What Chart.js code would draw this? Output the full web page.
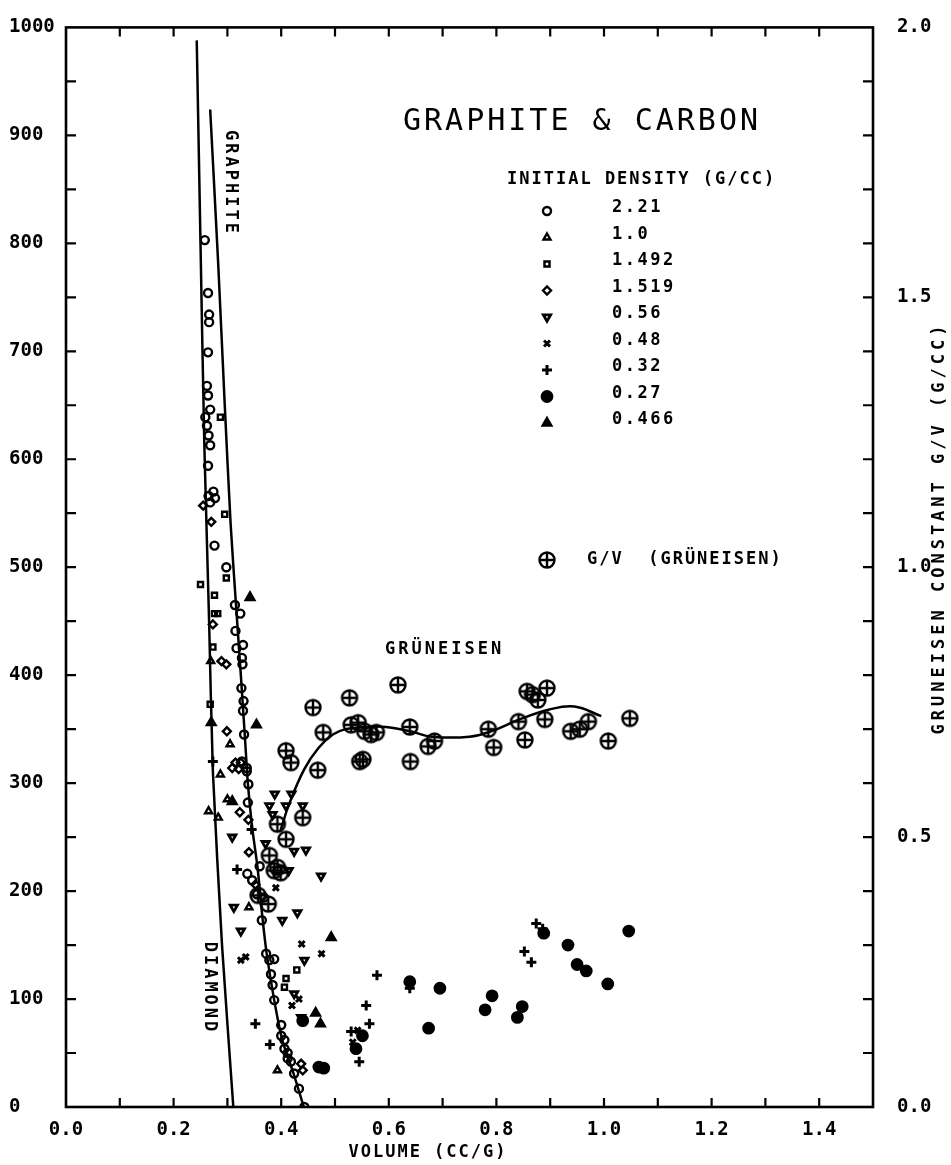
<!DOCTYPE html>
<html>
<head>
<meta charset="utf-8">
<script src="https://cdn.jsdelivr.net/npm/chart.js@4.4.0/dist/chart.umd.min.js"></script>
<style>
  html, body { margin: 0; padding: 0; background: #fff; }
  #wrap { position: relative; width: 951px; height: 1165px; }
</style>
</head>
<body>
<div id="wrap"><canvas id="hugoniotChart"></canvas></div>
<script>
// Shock Hugoniot data, pressure (left axis) vs specific volume (cc/g)
const rho221 = [[0.258,803],[0.264,754],[0.266,734],[0.266,727],[0.264,699],[0.262,668],[0.264,659],[0.268,646],[0.259,639],[0.262,631],[0.265,622],[0.268,613],[0.264,594],[0.274,570],[0.265,566],[0.277,564],[0.268,560],[0.276,520],[0.298,500],[0.314,465],[0.324,457],[0.315,441],[0.329,428],[0.317,425],[0.327,416],[0.328,410],[0.326,388],[0.330,376],[0.329,367],[0.331,345],[0.327,320],[0.336,314],[0.336,311],[0.339,299],[0.338,282],[0.360,223],[0.337,216],[0.346,210],[0.355,197],[0.368,194],[0.364,173],[0.372,142],[0.378,136],[0.387,137],[0.381,123],[0.384,113],[0.387,99],[0.400,76],[0.400,66],[0.406,62],[0.406,54],[0.412,50],[0.412,45],[0.418,42],[0.424,31],[0.433,17],[0.443,0]];
const rho10 = [[0.269,413],[0.305,336],[0.287,308],[0.265,274],[0.283,268],[0.300,285],[0.340,185],[0.393,34]];
const rho1492 = [[0.287,639],[0.295,549],[0.298,490],[0.250,484],[0.276,474],[0.276,457],[0.282,457],[0.273,426],[0.268,373],[0.429,127],[0.409,119],[0.406,111]];
const rho1519 = [[0.255,557],[0.270,542],[0.273,447],[0.289,413],[0.298,410],[0.299,348],[0.315,319],[0.309,314],[0.325,319],[0.321,313],[0.323,273],[0.339,266],[0.340,236],[0.352,206],[0.437,40],[0.440,34]];
const rho056 = [[0.388,290],[0.419,290],[0.378,279],[0.409,279],[0.440,279],[0.384,271],[0.309,250],[0.371,244],[0.424,237],[0.446,238],[0.414,219],[0.474,214],[0.312,185],[0.402,173],[0.430,180],[0.325,163],[0.443,136],[0.424,105],[0.437,83]];
const rho048 = [[0.390,203],[0.438,151],[0.475,142],[0.325,136],[0.334,139],[0.433,100],[0.420,94],[0.542,71],[0.533,60]];
const rho032 = [[0.273,320],[0.345,257],[0.318,220],[0.578,122],[0.639,110],[0.558,94],[0.352,77],[0.564,77],[0.379,58],[0.545,42],[0.874,170],[0.886,165],[0.852,144],[0.865,134],[0.530,70]];
const rho027 = [[0.639,116],[0.695,110],[0.779,90],[0.792,103],[0.848,93],[0.839,83],[0.674,73],[0.551,66],[0.539,54],[0.440,80],[0.470,37],[0.479,36],[0.888,161],[0.933,150],[0.950,132],[0.967,126],[1.007,114],[1.046,163]];
const rho0466 = [[0.342,472],[0.354,354],[0.270,356],[0.309,283],[0.493,157],[0.464,87],[0.473,77]];

// drawn curves
const diamondLine = [[0.243,988],[0.250,800],[0.257,616],[0.266,450],[0.273,311],[0.290,150],[0.311,0]];
const graphiteLine = [[0.268,924],[0.283,780],[0.295,651],[0.306,540],[0.316,465],[0.325,400],[0.333,339],[0.338,300],[0.346,259],[0.356,222],[0.365,176],[0.373,142],[0.387,99],[0.402,62],[0.423,31],[0.442,0]];

// Grueneisen constant G/V (right axis, g/cc)
const gruenPoints = [[0.357,0.392],[0.376,0.376],[0.378,0.466],[0.387,0.438],[0.393,0.444],[0.399,0.434],[0.393,0.524],[0.409,0.496],[0.440,0.536],[0.409,0.660],[0.418,0.638],[0.459,0.740],[0.468,0.624],[0.478,0.694],[0.527,0.758],[0.530,0.708],[0.543,0.712],[0.546,0.640],[0.552,0.644],[0.555,0.696],[0.567,0.690],[0.577,0.694],[0.617,0.782],[0.639,0.704],[0.640,0.640],[0.673,0.668],[0.685,0.678],[0.785,0.700],[0.795,0.666],[0.841,0.714],[0.853,0.680],[0.857,0.770],[0.867,0.764],[0.877,0.754],[0.894,0.776],[0.890,0.718],[0.938,0.696],[0.955,0.700],[0.971,0.714],[1.008,0.678],[1.048,0.720]];
const gruenLine = [[0.398,0.51],[0.415,0.562],[0.443,0.626],[0.47,0.666],[0.496,0.69],[0.52,0.70],[0.56,0.704],[0.594,0.704],[0.64,0.696],[0.68,0.686],[0.75,0.686],[0.79,0.696],[0.843,0.718],[0.897,0.736],[0.945,0.742],[0.995,0.724]];

const densityLabels = ['2.21', '1.0', '1.492', '1.519', '0.56', '0.48', '0.32', '0.27', '0.466'];

const MONO = '"DejaVu Sans Mono", monospace';
const INK = '#000';

function toXY(pairs) {
    return pairs.map(p => ({ x: p[0], y: p[1] }));
}

// circle with a cross inside, used for the G/V points
function circlePlus(r) {
    const c = document.createElement('canvas');
    const s = Math.ceil(r * 2 + 5);
    c.width = s; c.height = s;
    const g = c.getContext('2d');
    g.strokeStyle = INK;
    g.lineWidth = 2.4;
    g.beginPath();
    g.arc(s / 2, s / 2, r, 0, Math.PI * 2);
    g.moveTo(s / 2 - r, s / 2); g.lineTo(s / 2 + r, s / 2);
    g.moveTo(s / 2, s / 2 - r); g.lineTo(s / 2, s / 2 + r);
    g.stroke();
    return c;
}
const gvStyle = circlePlus(7.5);

function pointSet(label, pairs, style, opts) {
    return Object.assign({
        type: 'scatter',
        label: label,
        data: toXY(pairs),
        pointStyle: style,
        pointRadius: 4,
        pointBorderWidth: 2.4,
        pointBorderColor: INK,
        pointBackgroundColor: 'rgba(0,0,0,0)',
        yAxisID: 'y'
    }, opts || {});
}

function lineSet(label, pairs, axis, tension) {
    return {
        type: 'line',
        label: label,
        data: toXY(pairs),
        borderColor: INK,
        borderWidth: 2.5,
        pointRadius: 0,
        tension: tension,
        fill: false,
        yAxisID: axis
    };
}

const densitySets = [
    pointSet('2.21', rho221, 'circle', { pointRadius: 4 }),
    pointSet('1.0', rho10, 'triangle', { pointRadius: 4 }),
    pointSet('1.492', rho1492, 'rect', { pointRadius: 3.6 }),
    pointSet('1.519', rho1519, 'rectRot', { pointRadius: 4 }),
    pointSet('0.56', rho056, 'triangle', { pointRadius: 4.2, pointRotation: 180, pointBorderWidth: 2.8 }),
    pointSet('0.48', rho048, 'crossRot', { pointRadius: 4.2, pointBorderWidth: 3 }),
    pointSet('0.32', rho032, 'cross', { pointRadius: 5, pointBorderWidth: 3 }),
    pointSet('0.27', rho027, 'circle', { pointRadius: 5.2, pointBackgroundColor: INK }),
    pointSet('0.466', rho0466, 'triangle', { pointRadius: 5, pointBackgroundColor: INK })
];

const gvSet = pointSet('G/V (GRÜNEISEN)', gruenPoints, gvStyle, { yAxisID: 'y2' });

// frame, inward tick marks and the annotation text
const decorPlugin = {
    id: 'decor',
    afterDraw(chart) {
        const ctx = chart.ctx;
        const a = chart.chartArea;
        const sx = chart.scales.x, sy = chart.scales.y, sy2 = chart.scales.y2;
        ctx.save();
        ctx.strokeStyle = INK;
        ctx.lineWidth = 2.6;
        ctx.strokeRect(a.left, a.top, a.right - a.left, a.bottom - a.top);

        ctx.lineWidth = 2.2;
        ctx.beginPath();
        sx.ticks.forEach(t => {
            if (t.value <= sx.min || t.value >= sx.max - 1e-9) return;
            const px = sx.getPixelForValue(t.value);
            ctx.moveTo(px, a.bottom); ctx.lineTo(px, a.bottom - 9);
            ctx.moveTo(px, a.top); ctx.lineTo(px, a.top + 9);
        });
        sy.ticks.forEach(t => {
            if (t.value <= sy.min || t.value >= sy.max) return;
            const py = sy.getPixelForValue(t.value);
            ctx.moveTo(a.left, py); ctx.lineTo(a.left + 10, py);
        });
        sy2.ticks.forEach(t => {
            if (t.value <= sy2.min || t.value >= sy2.max - 1e-9) return;
            const py = sy2.getPixelForValue(t.value);
            ctx.moveTo(a.right, py); ctx.lineTo(a.right - 10, py);
        });
        ctx.stroke();

        ctx.fillStyle = INK;
        ctx.textBaseline = 'middle';

        function txt(s, x, y, font, spacing, align, rot) {
            ctx.save();
            ctx.font = font;
            ctx.letterSpacing = (spacing || 0) + 'px';
            ctx.textAlign = align || 'left';
            ctx.translate(x, y);
            if (rot) ctx.rotate(rot);
            ctx.fillText(s, 0, 0);
            ctx.restore();
        }
        const bold = 'bold 17px ' + MONO;

        txt('GRAPHITE & CARBON', 403, 122, '30px ' + MONO, 3);
        txt('INITIAL DENSITY (G/CC)', 507, 180, bold, 2);

        const rowY = 208, rowH = 26.5;
        densitySets.forEach((ds, i) => {
            const y = rowY + i * rowH;
            txt(densityLabels[i], 612, y, bold, 2.5);
            ctx.save();
            ctx.strokeStyle = INK;
            ctx.lineWidth = ds.pointBorderWidth;
            ctx.fillStyle = ds.pointBackgroundColor;
            Chart.helpers.drawPoint(ctx, {
                pointStyle: ds.pointStyle,
                radius: ds.pointRadius,
                rotation: ds.pointRotation || 0,
                borderWidth: ds.pointBorderWidth
            }, 547, y + 3);
            ctx.restore();
        });

        ctx.drawImage(gvStyle, 547 - gvStyle.width / 2, 560 - gvStyle.height / 2);
        txt('G/V  (GRÜNEISEN)', 587, 560, bold, 2);

        txt('GRÜNEISEN', 385, 650, bold, 3);
        txt('GRAPHITE', 230, 183, bold, 3, 'center', Math.PI / 2);
        txt('DIAMOND', 209, 988, bold, 3, 'center', Math.PI / 2);
        txt('VOLUME (CC/G)', 428, 1153, bold, 2, 'center');
        txt('GRUNEISEN CONSTANT G/V (G/CC)', 940, 528, bold, 4, 'center', -Math.PI / 2);
        ctx.restore();
    }
};

const tickFont = { family: MONO, size: 19, weight: 'bold' };

new Chart(document.getElementById('hugoniotChart'), {
    data: {
        datasets: [
            lineSet('Diamond', diamondLine, 'y', 0.2),
            lineSet('Graphite', graphiteLine, 'y', 0.2),
            lineSet('Grüneisen', gruenLine, 'y2', 0.4)
        ].concat(densitySets, [gvSet])
    },
    options: {
        responsive: true,
        maintainAspectRatio: false,
        animation: false,
        layout: { padding: { top: 24, left: 9, right: 0, bottom: 0 } },
        plugins: {
            legend: { display: false },
            tooltip: { enabled: false }
        },
        scales: {
            x: {
                type: 'linear',
                min: 0, max: 1.5,
                grid: { display: false },
                border: { display: false },
                ticks: {
                    stepSize: 0.1,
                    autoSkip: false,
                    maxRotation: 0,
                    padding: 4,
                    color: INK,
                    font: tickFont,
                    callback: v => Math.round(v * 10) % 2 === 0 ? v.toFixed(1) : ''
                },
                afterFit: s => { s.height = 58; }
            },
            y: {
                type: 'linear',
                position: 'left',
                min: 0, max: 1000,
                grid: { display: false },
                border: { display: false },
                ticks: {
                    stepSize: 50,
                    autoSkip: false,
                    crossAlign: 'far',
                    color: INK,
                    font: tickFont,
                    callback: v => v % 100 === 0 ? String(v) : ''
                },
                afterFit: s => { s.width = 57; }
            },
            y2: {
                type: 'linear',
                position: 'right',
                min: 0, max: 2,
                grid: { display: false },
                border: { display: false },
                ticks: {
                    stepSize: 0.1,
                    autoSkip: false,
                    padding: 16,
                    color: INK,
                    font: tickFont,
                    callback: v => Math.round(v * 10) % 5 === 0 ? v.toFixed(1) : ''
                },
                afterFit: s => { s.width = 78; }
            }
        }
    },
    plugins: [decorPlugin]
});
</script>
</body>
</html>
